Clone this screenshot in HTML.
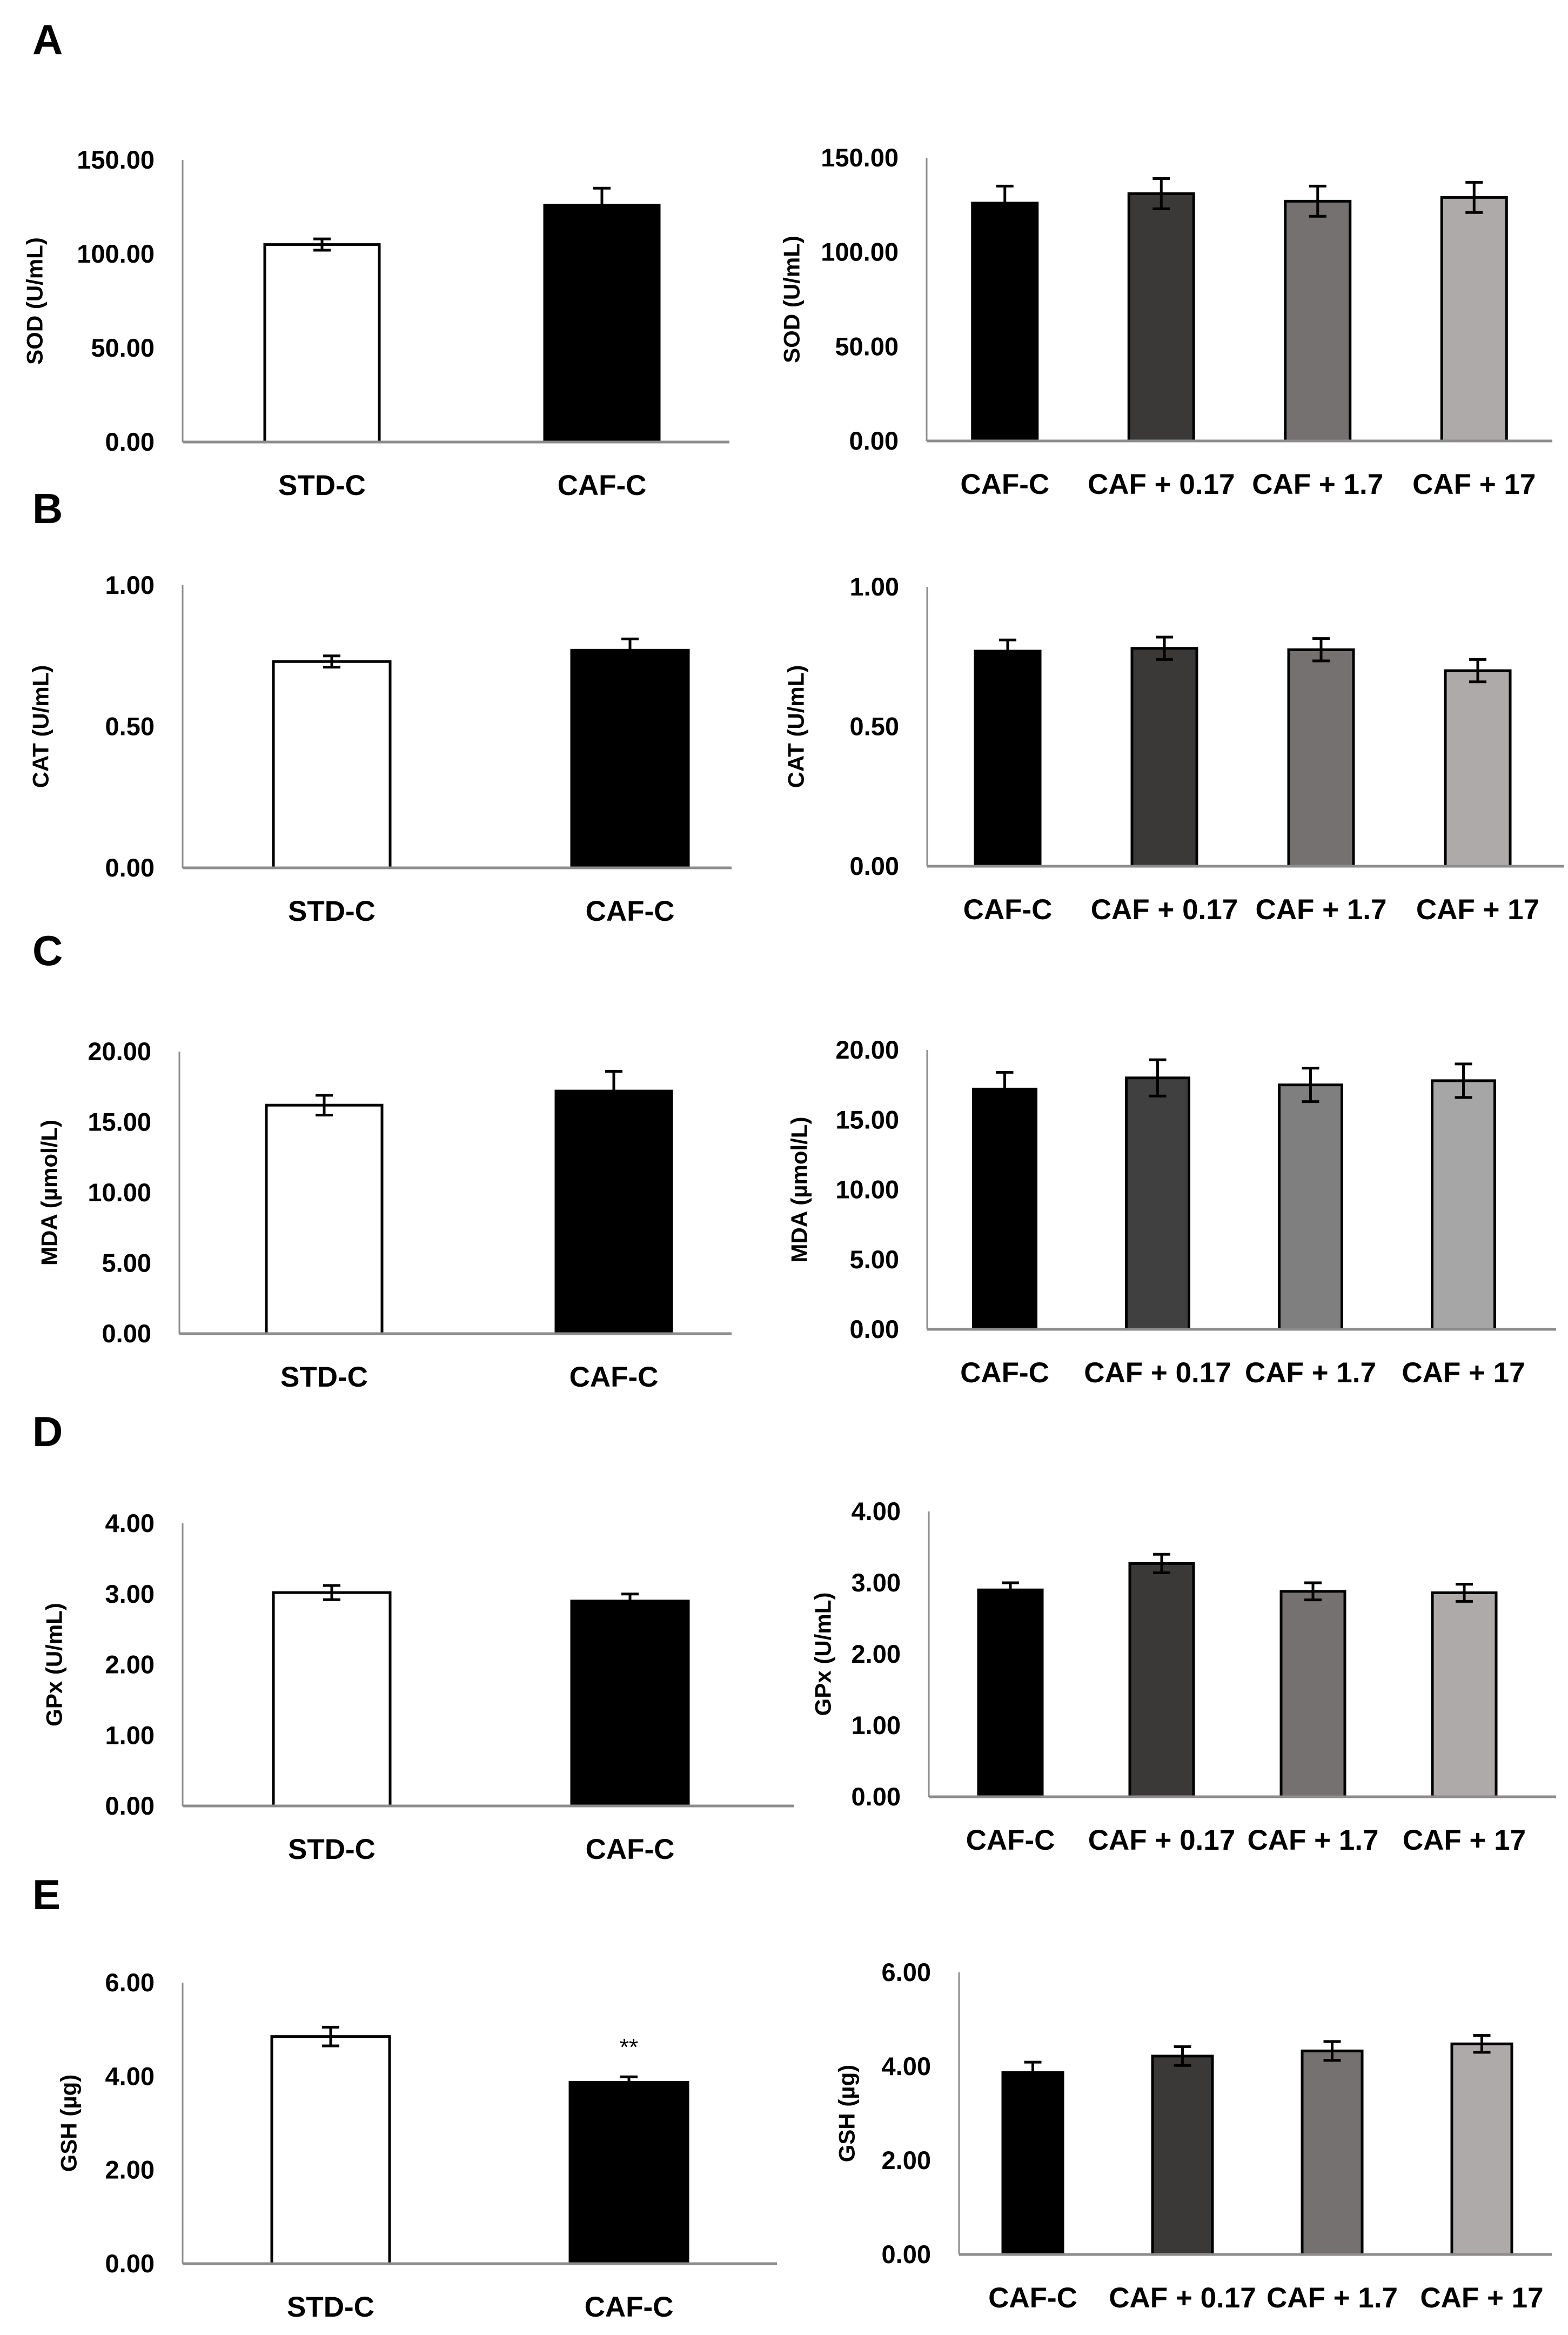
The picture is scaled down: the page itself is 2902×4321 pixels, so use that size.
<!DOCTYPE html>
<html><head><meta charset="utf-8">
<style>
html,body{margin:0;padding:0;background:#fff;}
svg{display:block;}
text{font-family:"Liberation Sans Narrow","Liberation Sans",sans-serif;font-weight:bold;fill:#000;}
</style></head>
<body>
<svg id="fig" width="2902" height="4321" viewBox="0 0 2902 4321" xmlns="http://www.w3.org/2000/svg"></svg>
<script>
// ---- data ----
const leftCategories = ["STD-C", "CAF-C"];
const rightCategories = ["CAF-C", "CAF + 0.17", "CAF + 1.7", "CAF + 17"];
const panelLetters = ["A", "B", "C", "D", "E"];
const yTitles = ["SOD (U/mL)", "CAT (U/mL)", "MDA (\u00b5mol/L)", "GPx (U/mL)", "GSH (\u00b5g)"];
const yMaxes = [150, 1, 20, 4, 6];
const yStepsVals = [50, 0.5, 5, 1, 2];
const sodLeft = [105, 126];  const sodLeftErr = [3, 9];
const sodRight = [126, 131, 127, 129]; const sodRightErr = [9, 8, 8, 8];
const catLeft = [0.73, 0.77]; const catLeftErr = [0.02, 0.04];
const catRight = [0.77, 0.78, 0.775, 0.70]; const catRightErr = [0.04, 0.04, 0.04, 0.04];
const mdaLeft = [16.2, 17.2]; const mdaLeftErr = [0.7, 1.4];
const mdaRight = [17.2, 18.0, 17.5, 17.8]; const mdaRightErr = [1.2, 1.3, 1.2, 1.2];
const gpxLeft = [3.02, 2.90]; const gpxLeftErr = [0.10, 0.10];
const gpxRight = [2.90, 3.27, 2.88, 2.86]; const gpxRightErr = [0.10, 0.13, 0.12, 0.12];
const gshLeft = [4.85, 3.87]; const gshLeftErr = [0.20, 0.12];
const gshRight = [3.87, 4.22, 4.33, 4.48]; const gshRightErr = [0.22, 0.20, 0.20, 0.18];
const gshLeftSignif = ["", "**"];

const leftValues = [sodLeft, catLeft, mdaLeft, gpxLeft, gshLeft];
const leftErrs = [sodLeftErr, catLeftErr, mdaLeftErr, gpxLeftErr, gshLeftErr];
const rightValues = [sodRight, catRight, mdaRight, gpxRight, gshRight];
const rightErrs = [sodRightErr, catRightErr, mdaRightErr, gpxRightErr, gshRightErr];

// ---- layout (pixel geometry) ----
const leftGeom = [
  {x0:338,x1:1350,top:296,base:818,bs:337,bw:518,bwid:212,tx:64},
  {x0:338,x1:1354,top:1083,base:1606,bs:338,bw:552,bwid:216,tx:75},
  {x0:332,x1:1354,top:1946,base:2468,bs:332,bw:536,bwid:214,tx:91},
  {x0:338,x1:1470,top:2819,base:3342,bs:338,bw:552,bwid:216,tx:100},
  {x0:338,x1:1438,top:3669,base:4189,bs:336,bw:552,bwid:218,tx:127}
];
const rightGeom = [
  {x0:1715,x1:2873,top:292,base:816,bs:1715,bw:289.5,bwid:120,tx:1465},
  {x0:1716,x1:2895,top:1086,base:1603,bs:1720,bw:290,bwid:120,tx:1473},
  {x0:1716,x1:2880,top:1943,base:2460,bs:1718,bw:283,bwid:116,tx:1479},
  {x0:1719,x1:2880,top:2797,base:3325,bs:1730,bw:280,bwid:118,tx:1523},
  {x0:1775,x1:2872,top:3650,base:4172,bs:1773,bw:277,bwid:111,tx:1567}
];
const letterY = [72, 940, 1758, 2648, 3505];
const leftColors = ["#ffffff", "#000000"];
const rightColorSets = [
  ["#000000","#3b3838","#767171","#aeaaaa"],
  ["#000000","#3b3838","#767171","#aeaaaa"],
  ["#000000","#404040","#7f7f7f","#a6a6a6"],
  ["#000000","#3b3838","#767171","#aeaaaa"],
  ["#000000","#3b3838","#767171","#aeaaaa"]
];

const NS = "http://www.w3.org/2000/svg";
const svg = document.getElementById("fig");
function mk(tag, attrs, parent, txt){
  const e = document.createElementNS(NS, tag);
  for (const k in attrs) e.setAttribute(k, attrs[k]);
  if (txt !== undefined) e.textContent = txt;
  (parent || svg).appendChild(e);
  return e;
}

function drawPanel(pi, side, g, cats, vals, errs, colors, signif){
  const grp = mk("g", {});
  
  
  const ymax = yMaxes[pi], step = yStepsVals[pi];
  const y = v => g.base - (v / ymax) * (g.base - g.top);
  const xc = i => g.bs + (i + 0.5) * g.bw;
  for (let t = 0; t <= ymax + 1e-9; t += step) {
    const tl = mk("text", {x: g.x0 - 52, y: y(t) + 16, "font-size": 47, "text-anchor": "end"}, grp, t.toFixed(2));
    
    
  }
  const ty = (g.top + g.base) / 2;
  const tt = mk("text", {x: g.tx, y: ty, "font-size": 42, "text-anchor": "middle", transform: `rotate(-90 ${g.tx} ${ty})`, "dominant-baseline": "central", style: "font-family:'Liberation Sans',sans-serif"}, grp, yTitles[pi]);
  
  
  for (let i = 0; i < vals.length; i++) {
    const cx = xc(i), top = y(vals[i]);
    const r = mk("rect", {x: cx - g.bwid/2, y: top, width: g.bwid, height: g.base - top, fill: colors[i], stroke: "#000", "stroke-width": 5}, grp);
    
    
    const e = errs[i], yt = y(vals[i] + e), yb = y(vals[i] - e);
    const eb = mk("path", {d: `M${cx},${yt}V${yb}M${cx-16},${yt}H${cx+16}M${cx-16},${yb}H${cx+16}`, stroke: "#000", "stroke-width": 5, fill: "none"}, grp);
    
    
    if (signif && signif[i]) {
      const s = mk("text", {x: cx, y: yt - 40, "font-size": 44, "text-anchor": "middle", style: "font-weight:normal"}, grp, signif[i]);
      
      
    }
    const cl = mk("text", {x: cx, y: g.base + 98, "font-size": 53, "text-anchor": "middle"}, grp, cats[i]);
    
    
  }
  const ya = mk("line", {x1: g.x0, y1: g.top, x2: g.x0, y2: g.base, stroke: "#8c8c8c", "stroke-width": 3}, grp);
  
  
  const xa = mk("line", {x1: g.x0, y1: g.base, x2: g.x1, y2: g.base, stroke: "#8c8c8c", "stroke-width": 5}, grp);
  
  
}

for (let p = 0; p < 5; p++) {
  const L = mk("text", {x: 60, y: letterY[p] + 28, "font-size": 78, style: "font-family:'Liberation Sans',sans-serif"}, svg, panelLetters[p]);
  
  
  drawPanel(p, "left", leftGeom[p], leftCategories, leftValues[p], leftErrs[p], leftColors, p === 4 ? gshLeftSignif : null);
  drawPanel(p, "right", rightGeom[p], rightCategories, rightValues[p], rightErrs[p], rightColorSets[p], null);
}
</script>
</body></html>
